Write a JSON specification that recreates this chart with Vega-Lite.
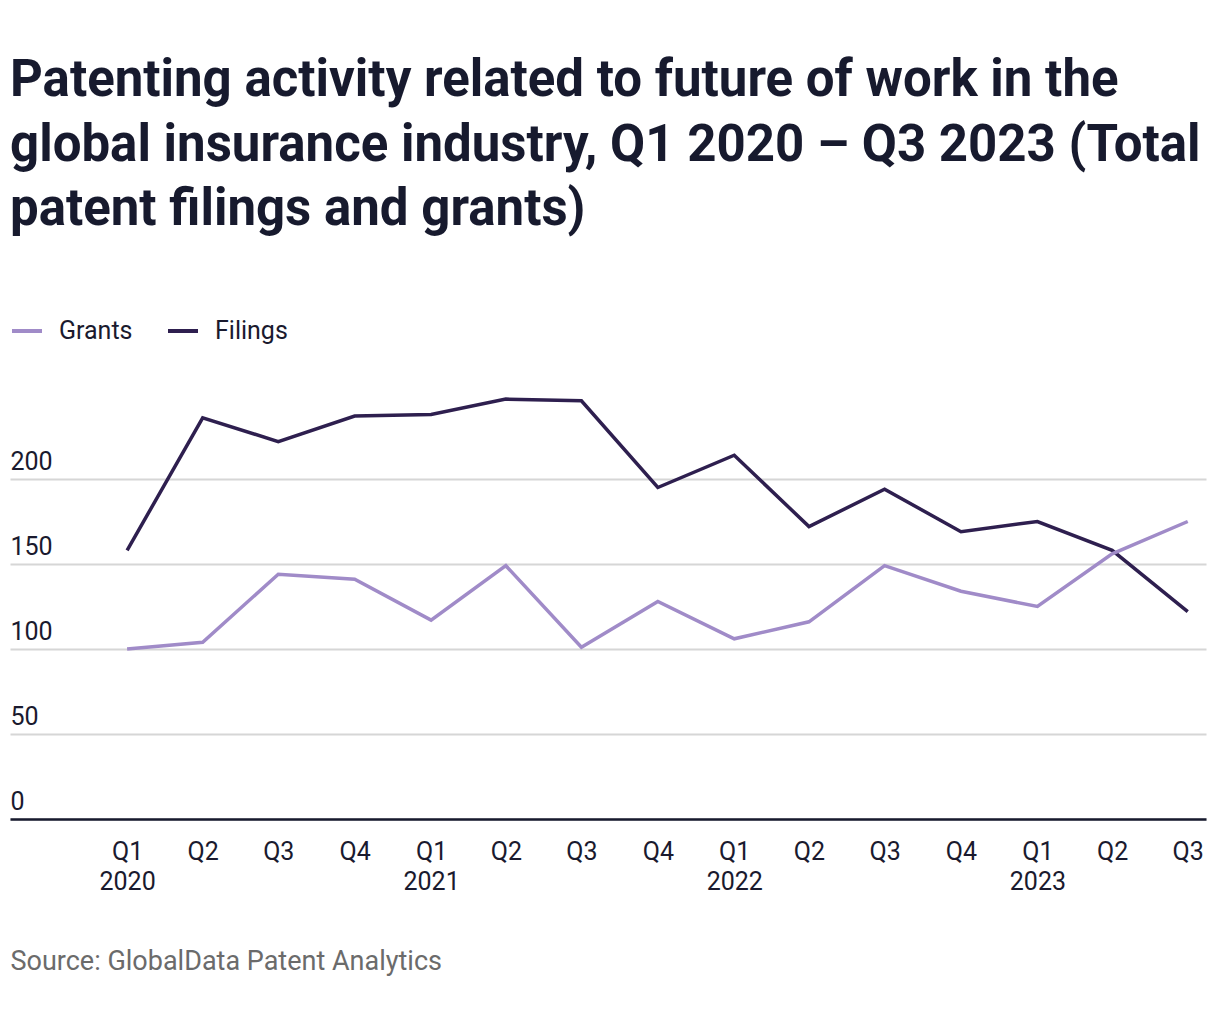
{
  "$schema": "https://vega.github.io/schema/vega-lite/v6.json",
  "width": 1196,
  "height": 425,
  "padding": {"left": 10, "top": 55, "right": 14, "bottom": 10},
  "background": "white",
  "title": {
    "text": ["Patenting activity related to future of work in the", "global insurance industry, Q1 2020 – Q3 2023 (Total", "patent filings and grants)"],
    "anchor": "start",
    "font": "Roboto",
    "fontSize": 51,
    "fontWeight": "bold",
    "color": "#171a2e",
    "lineHeight": 64.5,
    "offset": 78
  },
  "data": {
    "values": [
      {"date": "2020-01-01", "series": "Filings", "value": 158},
      {"date": "2020-04-01", "series": "Filings", "value": 236},
      {"date": "2020-07-01", "series": "Filings", "value": 222},
      {"date": "2020-10-01", "series": "Filings", "value": 237},
      {"date": "2021-01-01", "series": "Filings", "value": 238},
      {"date": "2021-04-01", "series": "Filings", "value": 247},
      {"date": "2021-07-01", "series": "Filings", "value": 246},
      {"date": "2021-10-01", "series": "Filings", "value": 195},
      {"date": "2022-01-01", "series": "Filings", "value": 214},
      {"date": "2022-04-01", "series": "Filings", "value": 172},
      {"date": "2022-07-01", "series": "Filings", "value": 194},
      {"date": "2022-10-01", "series": "Filings", "value": 169},
      {"date": "2023-01-01", "series": "Filings", "value": 175},
      {"date": "2023-04-01", "series": "Filings", "value": 158},
      {"date": "2023-07-01", "series": "Filings", "value": 122},
      {"date": "2020-01-01", "series": "Grants", "value": 100},
      {"date": "2020-04-01", "series": "Grants", "value": 104},
      {"date": "2020-07-01", "series": "Grants", "value": 144},
      {"date": "2020-10-01", "series": "Grants", "value": 141},
      {"date": "2021-01-01", "series": "Grants", "value": 117},
      {"date": "2021-04-01", "series": "Grants", "value": 149},
      {"date": "2021-07-01", "series": "Grants", "value": 101},
      {"date": "2021-10-01", "series": "Grants", "value": 128},
      {"date": "2022-01-01", "series": "Grants", "value": 106},
      {"date": "2022-04-01", "series": "Grants", "value": 116},
      {"date": "2022-07-01", "series": "Grants", "value": 149},
      {"date": "2022-10-01", "series": "Grants", "value": 134},
      {"date": "2023-01-01", "series": "Grants", "value": 125},
      {"date": "2023-04-01", "series": "Grants", "value": 156},
      {"date": "2023-07-01", "series": "Grants", "value": 175}
    ]
  },
  "mark": {"type": "line", "strokeWidth": 3.5},
  "encoding": {
    "x": {
      "field": "date",
      "type": "temporal",
      "scale": {"type": "utc", "domain": [{"year": 2019, "month": 8, "date": 13, "utc": true}, {"year": 2023, "month": 7, "date": 23, "utc": true}]},
      "axis": {
        "title": "Source: GlobalData Patent Analytics",
        "titleAnchor": "start",
        "titleAlign": "left",
        "titleFont": "Roboto",
        "titleFontSize": 27,
        "titleFontWeight": "normal",
        "titleColor": "#6b6b6b",
        "titlePadding": 54,
        "tickCount": {"interval": "month", "step": 3},
        "labelExpr": "utcyear(datum.value) < 2020 ? '' : (utcquarter(datum.value) == 1 ? ['Q1', utcFormat(datum.value, '%Y')] : 'Q' + utcquarter(datum.value))",
        "labelFont": "Roboto",
        "labelFontSize": 25,
        "labelColor": "#1a1a2e",
        "labelLineHeight": 30,
        "labelPadding": 20,
        "labelOverlap": false,
        "labelFlush": false,
        "ticks": false,
        "tickSize": 0,
        "grid": false,
        "domainColor": "#171a2e",
        "domainWidth": 2.5
      }
    },
    "y": {
      "field": "value",
      "type": "quantitative",
      "scale": {"domain": [0, 250]},
      "axis": {
        "title": null,
        "values": [0, 50, 100, 150, 200],
        "labelAlign": "left",
        "labelBaseline": "alphabetic",
        "labelOffset": -10,
        "labelPadding": 0,
        "ticks": false,
        "tickSize": 0,
        "domain": false,
        "labelFont": "Roboto",
        "labelFontSize": 25,
        "labelColor": "#1a1a2e",
        "gridColor": "#d6d6d6",
        "gridWidth": 2
      }
    },
    "color": {
      "field": "series",
      "type": "nominal",
      "scale": {"domain": ["Grants", "Filings"], "range": ["#a08bc8", "#2e1f4f"]},
      "legend": {
        "title": null,
        "orient": "none",
        "legendX": 0,
        "legendY": -80,
        "direction": "horizontal",
        "symbolType": "stroke",
        "symbolSize": 900,
        "symbolStrokeWidth": 4,
        "labelFont": "Roboto",
        "labelFontSize": 25,
        "labelColor": "#1a1a2e",
        "labelOffset": 15,
        "columnPadding": 27
      }
    }
  },
  "config": {"view": {"stroke": null}}
}
